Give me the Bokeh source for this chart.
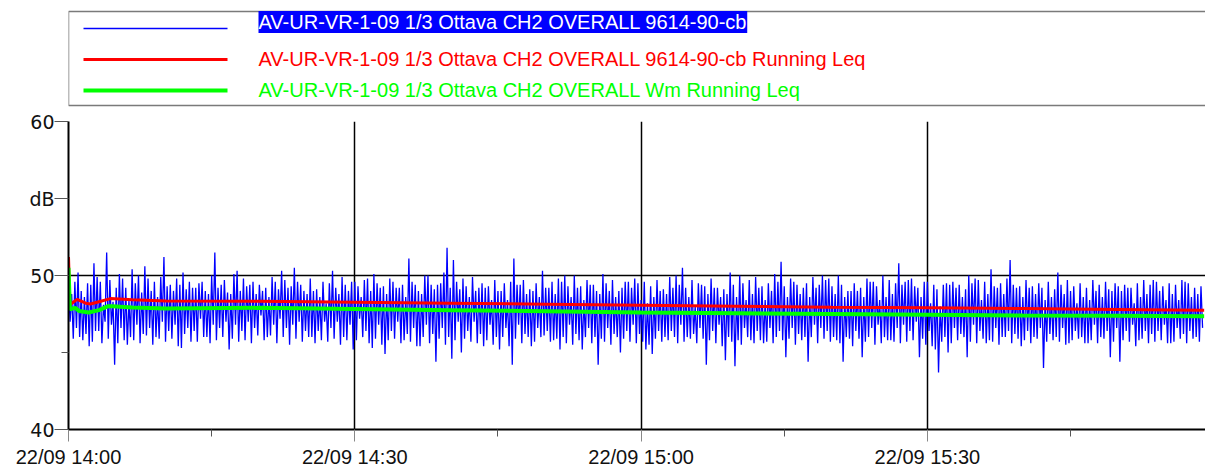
import pandas as pd
from bokeh.plotting import figure
from bokeh.layouts import column
from bokeh.models import (Range1d, FixedTicker, DatetimeTickFormatter, Label)
from bokeh.embed import file_html
from bokeh.resources import INLINE

# ---------------- data ----------------
START = pd.Timestamp("2021-09-22 14:00:00")
STEP_S = 10  # seconds between samples of the measured level

series_names = [
    "AV-UR-VR-1-09 1/3 Ottava CH2 OVERALL 9614-90-cb",
    "AV-UR-VR-1-09 1/3 Ottava CH2 OVERALL 9614-90-cb Running Leq",
    "AV-UR-VR-1-09 1/3 Ottava CH2 OVERALL Wm Running Leq",
]

# measured level (dB), 14:00 - 14:20
level_1400 = [
    49.3, 47.0, 48.8, 45.9, 49.6, 46.6, 50.2, 46.0, 49.0, 45.8, 48.6, 46.2, 49.5, 45.4, 49.4, 45.7, 50.8, 46.4, 49.9, 46.4,
    49.6, 45.6, 48.1, 47.0, 51.5, 45.9, 49.7, 46.8, 48.3, 44.2, 49.2, 45.6, 50.1, 46.6, 49.8, 45.8, 49.2, 45.5, 48.4, 46.0,
    50.4, 45.8, 49.5, 46.8, 50.0, 45.6, 48.9, 46.2, 50.6, 46.1, 49.8, 46.6, 49.0, 45.5, 49.6, 46.0, 48.6, 45.9, 49.9, 47.0,
    51.2, 45.7, 49.3, 46.4, 49.4, 45.9, 49.0, 46.8, 49.8, 45.4, 49.4, 45.3, 50.2, 46.2, 49.1, 46.6, 49.6, 45.7, 49.2, 46.4,
    49.2, 45.7, 49.5, 47.2, 49.6, 46.0, 49.0, 46.0, 48.8, 45.6, 50.0, 46.8, 51.5, 45.8, 49.2, 46.6, 49.4, 46.0, 49.7, 47.0,
    48.9, 45.2, 48.8, 45.9, 50.1, 46.8, 50.3, 45.7, 49.0, 46.4, 49.8, 45.8, 49.3, 47.0, 49.4, 45.6, 49.6, 46.6, 48.8, 46.1,
]
# 14:20 - 14:40
level_1420 = [
    49.4, 47.4, 49.0, 45.8, 49.2, 46.0, 48.6, 46.1, 49.9, 46.8, 49.6, 45.6, 49.1, 47.2, 50.3, 46.0, 49.7, 46.6, 49.2, 45.5,
    49.3, 46.8, 50.5, 45.9, 49.6, 47.0, 49.4, 45.7, 49.0, 46.4, 48.8, 46.0, 49.8, 46.0, 49.0, 45.6, 49.1, 46.4, 48.6, 45.8,
    49.6, 47.0, 48.2, 45.7, 49.5, 46.6, 50.3, 45.9, 49.2, 47.0, 48.8, 45.5, 49.9, 46.0, 49.4, 45.8, 49.0, 46.8, 49.6, 45.2,
    49.6, 45.8, 49.3, 47.2, 48.6, 46.0, 49.7, 46.4, 49.8, 45.6, 49.0, 45.3, 50.1, 45.9, 49.5, 46.8, 49.2, 45.5, 49.3, 44.9,
    48.8, 45.8, 49.8, 46.4, 49.6, 45.9, 49.2, 47.0, 49.2, 45.6, 49.4, 45.8, 48.6, 46.2, 51.1, 45.7, 49.6, 46.6, 49.4, 45.4,
    49.0, 45.4, 48.8, 46.0, 50.0, 46.8, 50.0, 45.6, 49.4, 46.2, 49.1, 44.4, 49.4, 45.9, 49.5, 46.6, 50.2, 45.5, 51.8, 46.0,
    49.2, 44.6,
]
# 14:40 - 15:00
level_1440 = [
    51.0, 45.8, 49.6, 47.0, 49.1, 45.0, 49.8, 45.9, 49.3, 46.4, 48.6, 45.7, 49.9, 47.0, 49.0, 45.6, 49.2, 46.2, 49.5, 45.4,
    49.2, 45.8, 49.3, 46.8, 48.4, 45.5, 49.7, 46.0, 49.0, 45.2, 49.0, 46.0, 49.5, 46.6, 48.4, 45.4, 49.6, 44.2,
    51.1, 45.9, 49.4, 46.8, 49.4, 45.6, 49.7, 46.2, 48.8, 46.0, 49.1, 45.4, 49.0, 45.7, 49.5, 46.6, 48.6, 46.0, 50.3, 46.1,
    49.2, 46.4, 49.2, 45.7, 49.6, 45.8, 48.8, 45.9, 49.8, 45.2, 49.6, 46.0, 50.0, 45.6, 49.3, 46.8, 48.6, 45.5, 50.0, 46.2,
    49.2, 45.8, 49.3, 45.2, 48.4, 46.0, 49.7, 46.6, 49.4, 45.6, 49.4, 46.0, 49.0, 44.2, 48.8, 45.9, 50.1, 45.7, 49.5, 46.6,
    49.0, 45.5, 49.7, 46.2, 48.6, 46.0, 49.0, 45.0, 49.2, 45.9, 49.6, 46.4, 49.6, 45.7, 49.2, 46.8, 49.8, 45.6, 49.5, 46.2,
]
# 15:00 - 15:20
level_1500 = [
    48.4, 45.7, 49.6, 45.2, 48.2, 45.5, 49.3, 44.9, 48.6, 45.9, 49.7, 46.4, 49.0, 45.7, 49.1, 46.0, 48.8, 45.8, 49.9, 46.4,
    49.2, 46.0, 50.0, 45.6, 49.4, 46.8, 50.5, 45.7, 49.2, 46.0, 48.6, 45.9, 49.7, 46.2, 48.0, 45.6, 49.5, 46.6, 49.4, 45.9,
    49.3, 44.2, 48.8, 45.8, 49.8, 46.4, 49.2, 45.6, 49.2, 46.8, 48.6, 45.4, 49.1, 44.5, 48.8, 46.0, 50.2, 45.7, 49.4, 44.1,
    48.6, 45.8, 50.0, 45.5, 49.5, 46.6, 48.4, 46.0, 49.7, 45.8, 48.8, 45.6, 49.9, 46.4, 49.2, 45.8, 49.3, 45.6, 48.4, 45.7,
    49.5, 46.6, 49.0, 45.6, 50.1, 46.0, 49.6, 46.4, 50.9, 45.8, 49.3, 44.7, 48.6, 45.9, 49.8, 46.6, 49.6, 45.5, 49.4, 46.2,
    48.8, 45.8, 49.2, 46.0, 49.5, 44.4, 48.6, 46.0, 49.9, 46.8, 49.2, 45.6, 49.4, 46.6, 50.0, 45.9, 49.7, 46.4, 49.8, 45.7,
]
# 15:20 - 15:40
level_1520 = [
    49.3, 46.0, 48.8, 45.8, 50.0, 45.6, 49.4, 44.4, 48.6, 46.0, 49.0, 45.9, 49.0, 45.4, 49.5, 46.4, 49.0, 45.9, 49.2, 44.7,
    48.6, 45.7, 49.8, 46.0, 49.6, 46.6, 49.6, 45.5, 49.3, 46.8, 48.4, 45.6, 50.0, 46.0, 48.6, 45.8, 49.7, 45.8, 48.8, 45.7,
    49.5, 46.6, 50.8, 45.6, 49.4, 46.8, 49.6, 45.7, 49.7, 46.4, 49.8, 45.8, 49.3, 47.0, 49.2, 44.7, 48.6, 45.9, 49.6, 45.5,
    49.6, 46.4, 48.2, 45.4, 49.4, 45.2, 49.1, 43.7, 48.0, 45.7, 49.4, 46.0, 49.5, 45.0, 49.4, 45.6, 49.6, 46.6, 49.2, 45.8,
    49.4, 46.2, 48.6, 46.0, 49.1, 44.7, 50.0, 45.7, 49.5, 46.8, 49.8, 45.6, 49.7, 46.4, 48.4, 45.9, 49.6, 45.6, 48.8, 45.8,
    50.4, 45.7, 49.3, 46.6, 49.2, 45.5, 49.5, 46.0, 48.8, 46.0, 49.8, 46.4, 51.0, 45.6, 49.4, 46.2, 49.2, 45.9, 49.3, 45.4,
]
# 15:40 - 15:59
level_1540 = [
    48.6, 45.8, 49.7, 46.4, 49.2, 45.6, 49.3, 46.0, 48.8, 45.9, 49.5, 46.6, 49.2, 44.0, 48.4, 45.7, 49.6, 46.2, 48.6, 45.8,
    49.1, 46.0, 50.2, 45.7, 49.4, 46.6, 48.8, 45.5, 49.7, 45.6, 49.0, 45.8, 49.3, 46.4, 48.2, 45.9, 49.5, 46.0, 48.6, 45.6,
    49.2, 45.6, 48.4, 45.8, 49.7, 46.8, 49.0, 45.6, 49.4, 46.0, 48.6, 45.9, 49.6, 46.4, 49.1, 44.7, 49.0, 45.7, 49.5, 46.6,
    49.3, 44.4, 49.0, 45.8, 49.4, 46.4, 49.2, 45.7, 49.2, 46.8, 48.2, 45.4, 49.5, 45.8, 48.6, 45.9, 49.7, 46.4, 48.8, 45.6,
    49.4, 46.2, 49.7, 45.7, 49.6, 46.4, 49.0, 45.8, 49.3, 46.8, 48.4, 45.6, 49.5, 45.6, 48.8, 45.7, 49.4, 46.6, 48.4, 45.9,
    49.7, 46.2, 49.6, 45.6, 49.5, 46.4, 48.6, 45.9, 49.2, 46.0, 48.8, 45.7, 49.3, 46.6,
]

# running Leq, read at (minutes after 14:00, dB)
leq_min = [0, 0.15, 0.9, 1.8, 2.3, 3.2, 4.4, 6.7, 10.2, 20, 30, 40, 50, 60, 70, 80, 90, 100, 110, 119]
leq_db = [51.2, 48.1, 48.45, 48.2, 48.15, 48.3, 48.5, 48.42, 48.35, 48.33, 48.27, 48.2, 48.14, 48.07,
          48.0, 47.94, 47.9, 47.86, 47.8, 47.75]

wm_min = [0, 0.15, 0.7, 1.1, 2.1, 3.2, 4.1, 4.6, 6.7, 10.2, 20, 30, 40, 50, 60, 70, 80, 90, 100, 110, 119]
wm_db = [50.5, 47.8, 47.9, 47.7, 47.6, 47.75, 48.0, 48.0, 47.92, 47.85, 47.9, 47.82, 47.75, 47.68,
         47.6, 47.55, 47.5, 47.45, 47.4, 47.38, 47.36]

major_ticks_t = ["14:00", "14:30", "15:00", "15:30"]
minor_ticks_t = ["14:15", "14:45", "15:15", "15:45"]
y_major = [40, 50, 55, 60]
y_minor = [45]
y_labels = {40: "40", 50: "50", 55: "dB", 60: "60"}

# ---------------- build ----------------
level_db = level_1400 + level_1420 + level_1440 + level_1500 + level_1520 + level_1540
level_t = [START + pd.Timedelta(seconds=STEP_S * i) for i in range(len(level_db))]
leq_t = [START + pd.Timedelta(minutes=m) for m in leq_min]
wm_t = [START + pd.Timedelta(minutes=m) for m in wm_min]

def ms(ts):
    return ts.value / 1e6

def at(hm):
    return ms(pd.Timestamp(f"2021-09-22 {hm}:00"))

BLUE, RED, GREEN = "#0000FF", "#FF0000", "#00FF00"
FONT_SANS = "Liberation Sans"

# legend panel (its frame is aligned with the chart frame; page-pixel coordinates)
leg = figure(width=1205, height=110, x_range=Range1d(69, 1206), y_range=Range1d(111, 1),
             output_backend="svg", toolbar_location=None,
             x_axis_location=None, y_axis_location=None,
             min_border_left=68, min_border_right=0, min_border_top=0, min_border_bottom=0)
leg.grid.visible = False
leg.outline_line_color = None
leg.quad(left=[69], right=[1260], top=[12], bottom=[106], fill_color=None,
         line_color="#7a7a7a", line_width=1.5)
rows_y = [29, 60, 91]
text_y = [22.5, 59, 90]
widths = [1.5, 3, 4]
colors = [BLUE, RED, GREEN]
for name, ly, ty, w, c in zip(series_names, rows_y, text_y, widths, colors):
    leg.line([84, 228], [ly, ly], line_color=c, line_width=w)
    if c == BLUE:
        lab = Label(x=259, y=ty, text=name, text_color="white", text_baseline="middle",
                    text_font=FONT_SANS, text_font_size="20px",
                    background_fill_color=BLUE)
    else:
        lab = Label(x=259, y=ty, text=name, text_color=c, text_baseline="middle",
                    text_font=FONT_SANS, text_font_size="20px")
    leg.add_layout(lab)

# main chart
x0 = ms(START)
x1 = x0 + 119.14 * 60 * 1000
p = figure(width=1205, height=362, x_axis_type="datetime",
           x_range=Range1d(x0, x1), y_range=Range1d(40, 60),
           output_backend="svg", toolbar_location=None,
           min_border_left=68, min_border_right=0, min_border_top=11, min_border_bottom=43)
p.outline_line_color = None

p.line(level_t, level_db, line_color=BLUE, line_width=1.3)
p.line(leq_t, leq_db, line_color=RED, line_width=3)
p.line(wm_t, wm_db, line_color=GREEN, line_width=4)

xt = FixedTicker(ticks=[at(t) for t in major_ticks_t], minor_ticks=[at(t) for t in minor_ticks_t])
p.xaxis.ticker = xt
fmt = "%d/%m %H:%M"
p.xaxis.formatter = DatetimeTickFormatter(minsec=fmt, minutes=fmt, hourmin=fmt, hours=fmt, days=fmt)
p.xaxis.major_label_text_font = FONT_SANS
p.xaxis.major_label_text_font_size = "20px"
p.xaxis.major_label_text_color = "#111111"
p.xaxis.major_tick_out = 12
p.xaxis.major_tick_in = 0
p.xaxis.minor_tick_out = 7
p.xaxis.minor_tick_in = 0
p.xaxis.major_tick_line_color = "#888888"
p.xaxis.minor_tick_line_color = "#555555"
p.xaxis.major_label_standoff = 4
p.xaxis.axis_line_color = "black"
p.xaxis.axis_line_width = 2

p.yaxis.ticker = FixedTicker(ticks=y_major, minor_ticks=y_minor)
p.yaxis.major_label_overrides = y_labels
p.yaxis.major_label_text_font = "DejaVu Sans"
p.yaxis.major_label_text_font_size = "19px"
p.yaxis.major_label_text_color = "#111111"
p.yaxis.major_tick_out = 14
p.yaxis.major_tick_in = 0
p.yaxis.minor_tick_out = 7
p.yaxis.minor_tick_in = 0
p.yaxis.major_tick_line_color = "#555555"
p.yaxis.minor_tick_line_color = "#555555"
p.yaxis.major_label_standoff = 0
p.yaxis.axis_line_color = "black"
p.yaxis.axis_line_width = 2

p.xgrid.ticker = xt
p.xgrid.grid_line_color = "black"
p.xgrid.grid_line_width = 1.5
p.xgrid.grid_line_alpha = 1
p.ygrid.ticker = FixedTicker(ticks=[50, 60])
p.ygrid.grid_line_color = "black"
p.ygrid.grid_line_width = 1.5
p.ygrid.grid_line_alpha = 1

layout = column(leg, p, spacing=0)
open("out.html", "w").write(file_html(layout, INLINE))
